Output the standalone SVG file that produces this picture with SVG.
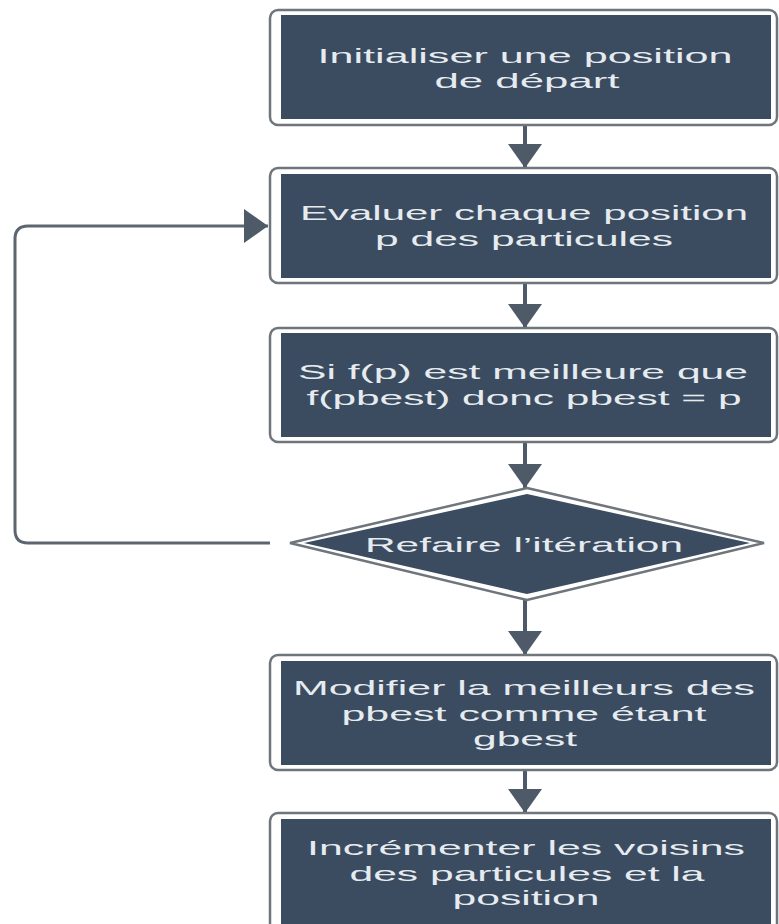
<svg xmlns="http://www.w3.org/2000/svg" width="779" height="924" viewBox="0 0 779 924">
  <defs>
    <marker id="arrow" viewBox="0 0 10 10" refX="10" refY="5" markerWidth="10" markerHeight="10" markerUnits="userSpaceOnUse" orient="auto">
      <path d="M0,0 L10,5 L0,10 z" fill="#4f5a68"/>
    </marker>
    <marker id="arrowBig" viewBox="0 0 24 34" refX="24" refY="17" markerWidth="24" markerHeight="34" markerUnits="userSpaceOnUse" orient="auto">
      <path d="M0,0 L24,17 L0,34 z" fill="#4f5a68"/>
    </marker>
  </defs>
  <style>
    .frame { fill: #ffffff; stroke: #6f757c; stroke-width: 2.5; }
    .body { fill: #3b4c60; }
    .label { font-family: "Liberation Sans", Arial, sans-serif; font-size: 21px; fill: #e6ebf0; text-anchor: middle; }
    .link { fill: none; stroke: #4f5a68; stroke-width: 4; }
    .loop { fill: none; stroke: #5d6670; stroke-width: 3; }
  </style>
  <rect width="779" height="924" fill="#ffffff"/>

  <g id="connectors">
    <path class="link" d="M525,125 V168" marker-end="url(#arrowBig)"/>
    <path class="link" d="M525,283 V328" marker-end="url(#arrowBig)"/>
    <path class="link" d="M525,442 V488" marker-end="url(#arrowBig)"/>
    <path class="link" d="M525,598 V655" marker-end="url(#arrowBig)"/>
    <path class="link" d="M525,770 V813" marker-end="url(#arrowBig)"/>
    <path class="loop" d="M270,543 H28 Q15,543 15,530 V239 Q15,226 28,226 H268" marker-end="url(#arrowBig)"/>
  </g>

  <g id="init">
    <rect class="frame" x="270" y="10" width="507" height="115" rx="8"/>
    <rect class="body" x="281" y="15" width="490" height="104"/>
    <text class="label" x="525" y="63" textLength="415" lengthAdjust="spacingAndGlyphs">Initialiser une position</text>
    <text class="label" x="527" y="88" textLength="185" lengthAdjust="spacingAndGlyphs">de départ</text>
  </g>

  <g id="evaluate">
    <rect class="frame" x="270" y="168" width="507" height="115" rx="8"/>
    <rect class="body" x="281" y="174" width="490" height="104"/>
    <text class="label" x="524" y="220" textLength="448" lengthAdjust="spacingAndGlyphs">Evaluer chaque position</text>
    <text class="label" x="524" y="246" textLength="298" lengthAdjust="spacingAndGlyphs">p des particules</text>
  </g>

  <g id="compare">
    <rect class="frame" x="270" y="328" width="507" height="114" rx="8"/>
    <rect class="body" x="281" y="333" width="490" height="104"/>
    <text class="label" x="523" y="379" textLength="450" lengthAdjust="spacingAndGlyphs">Si f(p) est meilleure que</text>
    <text class="label" x="524" y="405" textLength="435" lengthAdjust="spacingAndGlyphs">f(pbest) donc pbest = p</text>
  </g>

  <g id="repeat">
    <polygon points="527,488 764,543 527,600 290,543" fill="#ffffff" stroke="#6f757c" stroke-width="2.5"/>
    <polygon points="527,494 750,543 527,594 304,543" class="body"/>
    <text class="label" x="524" y="552" textLength="318" lengthAdjust="spacingAndGlyphs">Refaire l’itération</text>
  </g>

  <g id="gbest">
    <rect class="frame" x="270" y="655" width="507" height="115" rx="8"/>
    <rect class="body" x="281" y="661" width="490" height="104"/>
    <text class="label" x="524" y="695" textLength="462" lengthAdjust="spacingAndGlyphs">Modifier la meilleurs des</text>
    <text class="label" x="524" y="721" textLength="365" lengthAdjust="spacingAndGlyphs">pbest comme étant</text>
    <text class="label" x="525" y="746" textLength="104" lengthAdjust="spacingAndGlyphs">gbest</text>
  </g>

  <g id="increment">
    <rect class="frame" x="270" y="813" width="507" height="125" rx="8"/>
    <rect class="body" x="281" y="819" width="490" height="105"/>
    <text class="label" x="526" y="855" textLength="438" lengthAdjust="spacingAndGlyphs">Incrémenter les voisins</text>
    <text class="label" x="527" y="881" textLength="355" lengthAdjust="spacingAndGlyphs">des particules et la</text>
    <text class="label" x="526" y="905" textLength="147" lengthAdjust="spacingAndGlyphs">position</text>
  </g>
</svg>
